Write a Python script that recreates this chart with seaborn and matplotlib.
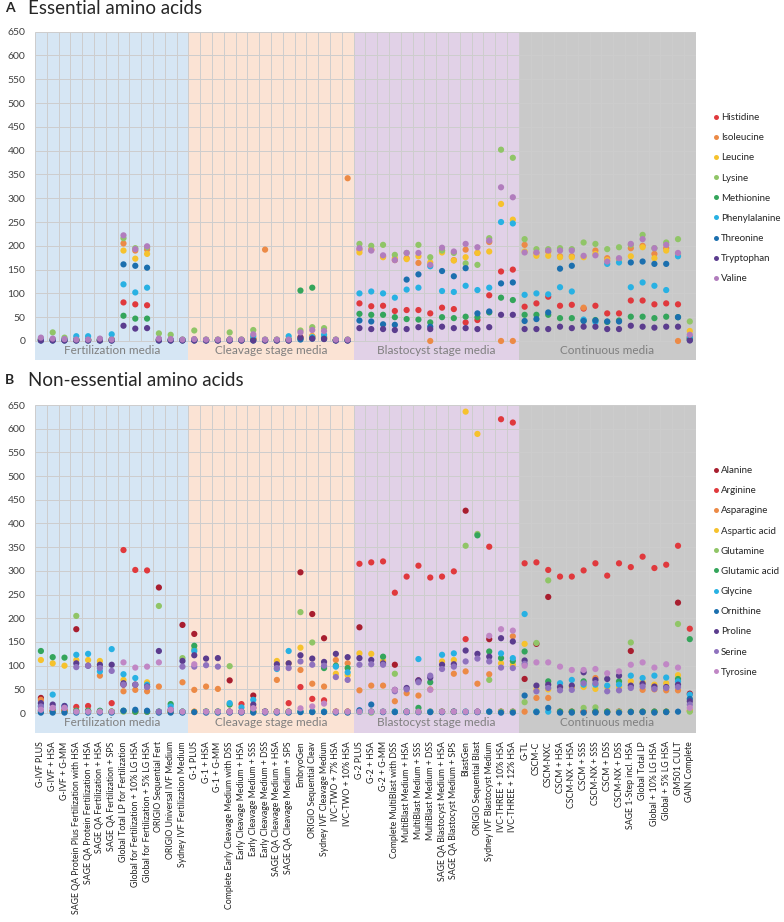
import numpy as np
import pandas as pd
import seaborn as sns
import matplotlib
matplotlib.use("Agg")
import matplotlib.pyplot as plt

media = [
    "G-IVF PLUS", "G-IVF + HSA", "G-IVF + G-MM",
    "SAGE QA Protein Plus Fertilization with HSA", "SAGE QA Protein Fertilization + HSA",
    "SAGE QA Fertilization + HSA", "SAGE QA Fertilization + SPS",
    "Global Total LP for Fertilization", "Global for Fertilization + 10% LG HSA",
    "Global for Fertilization + 5% LG HSA", "ORIGIO Sequential Fert",
    "ORIGIO Universal IVF Medium", "Sydney IVF Fertilization Medium",
    "G-1 PLUS", "G-1 + HSA", "G-1 + G-MM", "Complete Early Cleavage Medium with DSS",
    "Early Cleavage Medium + HSA", "Early Cleavage Medium + SSS", "Early Cleavage Medium + DSS",
    "SAGE QA Cleavage Medium + HSA", "SAGE QA Cleavage Medium + SPS", "EmbryoGen",
    "ORIGIO Sequential Cleav", "Sydney IVF Cleavage Medium", "IVC-TWO + 7% HSA", "IVC-TWO + 10% HSA",
    "G-2 PLUS", "G-2 + HSA", "G-2 + G-MM", "Complete MultiBlast with DSS",
    "MultiBlast Medium + HSA", "MultiBlast Medium + SSS", "MultiBlast Medium + DSS",
    "SAGE QA Blastocyst Medium + HSA", "SAGE QA Blastocyst Medium + SPS", "BlastGen",
    "ORIGIO Sequential Blast", "Sydney IVF Blastocyst Medium", "IVC-THREE + 10% HSA",
    "IVC-THREE + 12% HSA",
    "G-TL", "CSCM-C", "CSCM-NXC", "CSCM + HSA", "CSCM-NX + HSA", "CSCM + SSS", "CSCM-NX + SSS",
    "CSCM + DSS", "CSCM-NX + DSS", "SAGE 1-Step incl. HSA", "Global Total LP",
    "Global + 10% LG HSA", "Global + 5% LG HSA", "GM501 CULT", "GAIN Complete",
]
group_names = ["Fertilization media", "Cleavage stage media", "Blastocyst stage media", "Continuous media"]
group_sizes = [13, 14, 14, 15]
group_colors = ["#d6e6f4", "#fbe3d4", "#e1d1e7", "#c9c9c9"]

# essential amino acids
histidine = [3, 3, 2, 3, 3, 2, 3, 81, 77, 75, 3, 2, 2,
             3, 2, 2, 3, 2, 5, 2, 2, 3, 8, 10, 8, 2, 2,
             79, 73, 74, 63, 65, 65, 58, 70, 67, 39, 44, 96, 146, 150,
             72, 79, 93, 74, 76, 68, 74, 58, 58, 85, 85, 77, 79, 77, 5]
isoleucine = [3, 3, 2, 2, 2, 2, 2, 205, 190, 192, 3, 2, 2,
              3, 2, 2, 3, 2, 5, 192, 2, 2, 5, 8, 8, 2, 342,
              192, 192, 178, 170, 174, 164, 0, 190, 170, 192, 185, 208, 0, 0,
              202, 185, 188, 178, 178, 70, 190, 174, 172, 195, 200, 183, 195, 0, 8]
leucine = [3, 3, 2, 3, 3, 2, 3, 190, 173, 183, 3, 2, 2,
           3, 2, 2, 3, 2, 5, 2, 2, 3, 6, 10, 8, 2, 2,
           186, 192, 176, 174, 172, 178, 165, 186, 169, 176, 185, 188, 288, 255,
           188, 179, 179, 176, 176, 176, 183, 170, 172, 178, 197, 174, 190, 183, 21]
lysine = [5, 18, 7, 3, 3, 4, 3, 216, 195, 197, 16, 13, 3,
          22, 3, 3, 18, 3, 23, 3, 3, 3, 22, 29, 27, 3, 3,
          204, 200, 202, 181, 185, 202, 176, 190, 185, 163, 160, 216, 402, 385,
          214, 193, 193, 195, 193, 207, 204, 193, 197, 202, 223, 195, 207, 214, 41]
methionine = [2, 2, 2, 2, 2, 2, 2, 53, 47, 47, 2, 2, 2,
              2, 2, 2, 2, 2, 3, 2, 2, 2, 106, 112, 5, 2, 2,
              57, 55, 55, 50, 46, 45, 39, 50, 48, 51, 50, 60, 91, 86,
              55, 55, 55, 48, 48, 43, 44, 40, 43, 51, 51, 48, 51, 50, 5]
phenylalanine = [3, 3, 3, 10, 10, 3, 14, 119, 102, 112, 3, 2, 2,
                 3, 2, 2, 3, 2, 10, 2, 2, 10, 5, 8, 13, 2, 2,
                 100, 104, 100, 91, 108, 112, 157, 105, 103, 116, 107, 112, 250, 247,
                 97, 100, 98, 113, 104, 45, 40, 162, 165, 113, 123, 116, 107, 178, 8]
threonine = [1, 1, 1, 1, 1, 1, 1, 161, 158, 154, 1, 1, 1,
             1, 1, 1, 1, 1, 1, 1, 1, 1, 3, 5, 5, 1, 1,
             43, 41, 35, 34, 129, 140, 30, 147, 136, 153, 58, 62, 121, 123,
             42, 46, 60, 152, 158, 42, 43, 41, 41, 165, 167, 162, 162, 50, 2]
tryptophan = [1, 1, 1, 1, 1, 1, 1, 32, 26, 27, 1, 1, 1,
              1, 1, 1, 1, 1, 1, 1, 1, 1, 7, 5, 4, 1, 1,
              27, 25, 25, 23, 25, 29, 25, 30, 27, 27, 25, 29, 55, 55,
              25, 25, 25, 30, 27, 30, 30, 25, 25, 32, 30, 28, 30, 30, 1]
valine = [7, 5, 4, 3, 3, 5, 3, 222, 193, 199, 5, 4, 3,
          4, 3, 3, 3, 3, 14, 3, 3, 3, 18, 23, 21, 3, 3,
          195, 190, 180, 170, 185, 185, 160, 196, 188, 204, 197, 211, 323, 302,
          186, 186, 190, 190, 190, 179, 180, 167, 174, 204, 214, 195, 202, 185, 13]

# non-essential amino acids
alanine = [32, 5, 5, 177, 5, 3, 3, 60, 3, 3, 265, 3, 186,
           167, 3, 3, 69, 3, 37, 3, 3, 3, 297, 209, 158, 3, 3,
           181, 3, 3, 102, 3, 69, 3, 3, 3, 427, 3, 156, 3, 3,
           72, 146, 245, 3, 3, 3, 3, 3, 3, 131, 3, 3, 3, 233, 41]
arginine = [5, 5, 5, 13, 15, 3, 21, 344, 302, 301, 3, 3, 3,
            3, 3, 3, 3, 19, 12, 3, 3, 21, 55, 30, 27, 3, 3,
            315, 318, 320, 254, 288, 311, 286, 288, 299, 156, 3, 351, 620, 613,
            316, 318, 302, 288, 288, 301, 316, 290, 316, 308, 330, 306, 313, 353, 178]
asparagine = [28, 5, 5, 5, 5, 79, 3, 46, 49, 46, 56, 3, 65,
              49, 56, 51, 3, 3, 3, 3, 70, 3, 91, 62, 56, 112, 105,
              48, 58, 58, 25, 42, 37, 50, 3, 83, 88, 62, 82, 3, 162,
              3, 32, 32, 3, 3, 3, 74, 3, 3, 3, 49, 50, 48, 48, 5]
aspartic_acid = [112, 105, 100, 112, 112, 110, 3, 70, 60, 65, 3, 3, 3,
                 3, 3, 3, 3, 3, 3, 3, 110, 105, 138, 3, 3, 83, 80,
                 126, 125, 110, 3, 3, 3, 3, 109, 112, 636, 589, 3, 105, 102,
                 146, 50, 50, 55, 55, 55, 51, 55, 55, 67, 65, 60, 63, 80, 5]
glutamine = [3, 3, 3, 205, 3, 3, 3, 3, 3, 3, 226, 3, 116,
             135, 3, 3, 99, 3, 3, 3, 3, 3, 213, 149, 3, 3, 3,
             3, 1, 3, 83, 3, 3, 3, 3, 3, 353, 378, 70, 3, 3,
             23, 148, 280, 3, 3, 11, 12, 3, 3, 149, 3, 3, 3, 188, 3]
glutamic_acid = [131, 118, 117, 5, 5, 5, 3, 5, 3, 3, 3, 19, 3,
                 142, 3, 3, 18, 3, 3, 3, 3, 3, 3, 3, 95, 100, 95,
                 3, 3, 119, 3, 3, 11, 65, 3, 3, 3, 375, 130, 116, 110,
                 130, 3, 67, 3, 3, 67, 3, 3, 67, 3, 3, 3, 3, 72, 156]
glycine = [15, 39, 15, 123, 125, 88, 135, 82, 74, 60, 3, 14, 3,
           131, 3, 3, 21, 12, 28, 3, 93, 131, 3, 3, 3, 98, 86,
           3, 3, 3, 3, 3, 114, 3, 123, 126, 3, 3, 3, 126, 116,
           209, 3, 3, 63, 70, 60, 60, 58, 60, 79, 74, 79, 75, 67, 39]
ornithine = [1, 1, 1, 1, 1, 1, 1, 5, 7, 5, 1, 1, 1,
             2, 1, 1, 1, 1, 1, 1, 1, 1, 2, 2, 2, 1, 1,
             6, 18, 2, 2, 2, 2, 2, 2, 3, 2, 2, 3, 1, 1,
             37, 2, 11, 1, 1, 1, 1, 1, 1, 2, 2, 1, 2, 3, 30]
proline = [21, 18, 15, 105, 100, 102, 102, 63, 60, 56, 131, 7, 110,
           122, 115, 116, 3, 3, 18, 3, 103, 105, 122, 115, 108, 125, 118,
           116, 112, 105, 49, 53, 69, 75, 102, 103, 132, 125, 119, 158, 151,
           111, 58, 60, 55, 58, 86, 70, 72, 79, 58, 62, 56, 55, 60, 25]
serine = [14, 11, 11, 97, 100, 95, 89, 60, 60, 55, 3, 7, 98,
          98, 101, 98, 3, 3, 10, 3, 95, 95, 109, 102, 100, 76, 70,
          102, 103, 102, 46, 50, 65, 79, 93, 98, 109, 115, 109, 96, 95,
          104, 46, 53, 48, 49, 63, 63, 46, 48, 53, 56, 51, 53, 55, 18]
tyrosine = [7, 11, 11, 3, 3, 3, 3, 107, 96, 98, 107, 7, 3,
            103, 3, 3, 3, 3, 10, 3, 3, 3, 10, 14, 20, 3, 3,
            3, 3, 3, 49, 3, 3, 49, 3, 3, 3, 3, 163, 177, 174,
            100, 107, 107, 98, 91, 91, 93, 84, 88, 102, 107, 96, 103, 96, 11]

essential = {
    "Histidine": histidine, "Isoleucine": isoleucine, "Leucine": leucine,
    "Lysine": lysine, "Methionine": methionine, "Phenylalanine": phenylalanine,
    "Threonine": threonine, "Tryptophan": tryptophan, "Valine": valine,
}
essential_colors = ["#e0393d", "#ec8a46", "#f6c22d", "#90c567", "#34a55b",
                    "#28b1e3", "#1b6fae", "#5b3c8e", "#b17dbd"]
nonessential = {
    "Alanine": alanine, "Arginine": arginine, "Asparagine": asparagine,
    "Aspartic acid": aspartic_acid, "Glutamine": glutamine, "Glutamic acid": glutamic_acid,
    "Glycine": glycine, "Ornithine": ornithine, "Proline": proline,
    "Serine": serine, "Tyrosine": tyrosine,
}
nonessential_colors = ["#a81e2f", "#e0393d", "#ec8a46", "#f6c22d", "#90c567", "#34a55b",
                       "#28b1e3", "#1b6fae", "#5b3c8e", "#8f72be", "#c087c5"]

sns.set_style("white")
plt.rcParams["font.family"] = ["Lato", "DejaVu Sans"]

W, H = 784, 922
fig = plt.figure(figsize=(W / 100, H / 100), dpi=100)
left, right = 35, 695.7
axA = fig.add_axes([left / W, 1 - 360 / H, (right - left) / W, (360 - 31.7) / H])
axB = fig.add_axes([left / W, 1 - 733 / H, (right - left) / W, (733 - 405) / H])


def draw_panel(ax, acids, colors, ybottom, legend_top):
    rows = []
    for name, vals in acids.items():
        for i, v in enumerate(vals):
            rows.append((i, v, name))
    df = pd.DataFrame(rows, columns=["pos", "value", "acid"])
    n = len(media)
    ax.set_xlim(-0.5, n - 0.5)
    ax.set_ylim(ybottom, 650)
    start = 0
    for gname, size, col in zip(group_names, group_sizes, group_colors):
        ax.axvspan(start - 0.5, start + size - 0.5, color=col, lw=0, zorder=0)
        ax.text(start + size / 2 - 0.5, ybottom * 0.48, gname, ha="center", va="center",
                fontsize=8.5, color="#7f7f7f")
        start += size
    ax.vlines(np.arange(n + 1) - 0.5, 0, 650, color="#cdcdcd", lw=0.7, zorder=1)
    ax.hlines(np.arange(0, 651, 50), -0.5, n - 0.5, color="#cdcdcd", lw=0.7, zorder=1)
    sns.scatterplot(data=df, x="pos", y="value", hue="acid", palette=colors,
                    s=20, linewidth=0, ax=ax, zorder=3)
    ax.set_xlabel("")
    ax.set_ylabel("")
    ax.set_yticks(np.arange(0, 651, 50))
    ax.tick_params(axis="y", length=0, pad=7, labelsize=7.5, labelcolor="#404040")
    for sp in ax.spines.values():
        sp.set_visible(False)
    handles, labels = ax.get_legend_handles_labels()
    ax.legend(handles, labels, loc="upper left", bbox_to_anchor=(711 / W, 1 - legend_top / H),
              bbox_transform=fig.transFigure, frameon=False, fontsize=7,
              handletextpad=0.0, handlelength=1.0, labelspacing=1.15,
              borderpad=0, borderaxespad=0, markerscale=0.8)


draw_panel(axA, essential, essential_colors, -40, 113)
axA.set_xticks([])

draw_panel(axB, nonessential, nonessential_colors, -42, 466)
axB.set_xticks(np.arange(len(media)))
axB.set_xticklabels(media, rotation=90, fontsize=6.35, color="#202020")
axB.tick_params(axis="x", length=0, pad=6)

fig.text(5 / W, 1 - 8 / H, "A", fontsize=10, fontweight="bold", va="center")
fig.text(28 / W, 1 - 8 / H, "Essential amino acids", fontsize=13.5, va="center")
fig.text(5 / W, 1 - 380 / H, "B", fontsize=10, fontweight="bold", va="center")
fig.text(28 / W, 1 - 380 / H, "Non-essential amino acids", fontsize=13.5, va="center")

fig.savefig("out.png", dpi=100)
